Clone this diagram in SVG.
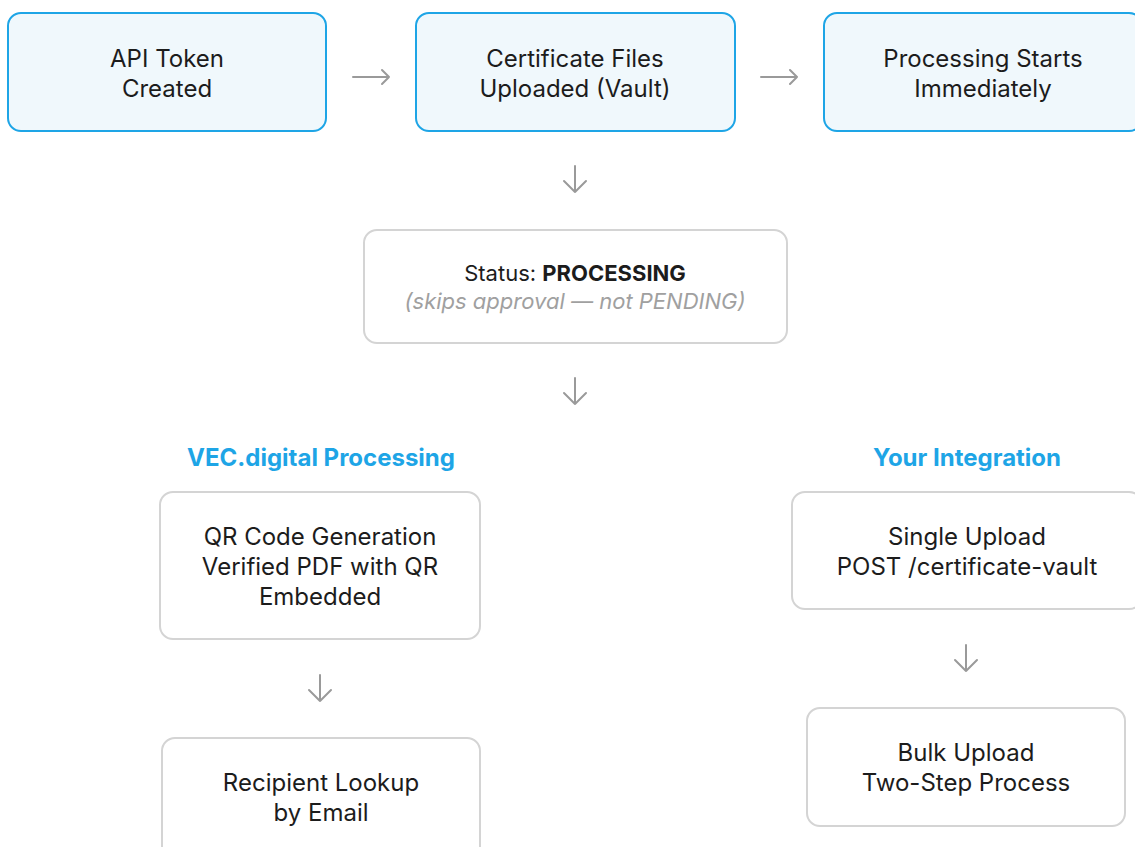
<svg xmlns="http://www.w3.org/2000/svg" width="1135" height="847" viewBox="0 0 1135 847">
  <style>
    .hi rect { fill: #f0f8fc; stroke: #1ea5e6; stroke-width: 2; }
    .plain rect { fill: #ffffff; stroke: #d4d4d4; stroke-width: 2; }
    text { font-family: Inter, "Noto Sans", "Liberation Sans", sans-serif; fill: #1c1c1c; text-anchor: middle; }
    .lbl { font-size: 24px; }
    .st { font-size: 22px; }
    .note { font-size: 22px; font-style: italic; fill: #a0a0a0; }
    .head { font-size: 24px; font-weight: 700; fill: #1ea5e6; }
    .conn path { fill: none; stroke: #9a9a9a; stroke-width: 2; stroke-linecap: round; stroke-linejoin: round; }
  </style>
  <rect width="1135" height="847" fill="#ffffff"/>

  <!-- top row -->
  <g id="token" class="hi">
    <rect x="8" y="13" width="318" height="118" rx="13"/>
    <text class="lbl" x="167" y="67">API Token</text>
    <text class="lbl" x="167" y="97">Created</text>
  </g>
  <g id="upload" class="hi">
    <rect x="416" y="13" width="319" height="118" rx="13"/>
    <text class="lbl" x="575" y="67">Certificate Files</text>
    <text class="lbl" x="575" y="97">Uploaded (Vault)</text>
  </g>
  <g id="starts" class="hi">
    <rect x="824" y="13" width="318" height="118" rx="13"/>
    <text class="lbl" x="983" y="67">Processing Starts</text>
    <text class="lbl" x="983" y="97">Immediately</text>
  </g>

  <!-- status -->
  <g id="status" class="plain">
    <rect x="364" y="230" width="423" height="113" rx="13"/>
    <text class="st" x="575" y="281">Status: <tspan font-weight="700">PROCESSING</tspan></text>
    <text class="note" x="575" y="309">(skips approval — not PENDING)</text>
  </g>

  <!-- column headings -->
  <g id="vec-heading">
    <text class="head" x="321" y="466">VEC.digital Processing</text>
  </g>
  <g id="integration-heading">
    <text class="head" x="967" y="466">Your Integration</text>
  </g>

  <!-- left column -->
  <g id="qr" class="plain">
    <rect x="160" y="492" width="320" height="147" rx="13"/>
    <text class="lbl" x="320" y="545">QR Code Generation</text>
    <text class="lbl" x="320" y="575">Verified PDF with QR</text>
    <text class="lbl" x="320" y="605">Embedded</text>
  </g>
  <g id="lookup" class="plain">
    <rect x="162" y="738" width="318" height="130" rx="13"/>
    <text class="lbl" x="321" y="791">Recipient Lookup</text>
    <text class="lbl" x="321" y="821">by Email</text>
  </g>

  <!-- right column -->
  <g id="single" class="plain">
    <rect x="792" y="492" width="350" height="117" rx="13"/>
    <text class="lbl" x="967" y="545">Single Upload</text>
    <text class="lbl" x="967" y="575">POST /certificate-vault</text>
  </g>
  <g id="bulk" class="plain">
    <rect x="807" y="708" width="318" height="118" rx="13"/>
    <text class="lbl" x="966" y="761">Bulk Upload</text>
    <text class="lbl" x="966" y="791">Two-Step Process</text>
  </g>

  <!-- connectors -->
  <g id="connectors" class="conn">
    <path d="M353 77 H389 M382 70 L389 77 L382 84"/>
    <path d="M761 77 H797 M790 70 L797 77 L790 84"/>
    <path d="M575 166 V192 M564 181 L575 192 L586 181"/>
    <path d="M575 378 V404 M564 393 L575 404 L586 393"/>
    <path d="M320 675 V701 M309 690 L320 701 L331 690"/>
    <path d="M966 645 V671 M955 660 L966 671 L977 660"/>
  </g>
</svg>
